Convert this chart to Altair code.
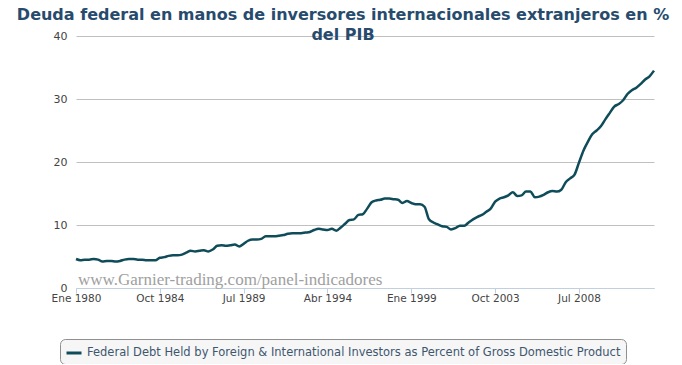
import altair as alt
import pandas as pd

title_lines = ["Deuda federal en manos de inversores internacionales extranjeros en %", "del PIB"]
series_name = "Federal Debt Held by Foreign & International Investors as Percent of Gross Domestic Product"
watermark = "www.Garnier-trading.com/panel-indicadores"
month_names = ["Ene", "Feb", "Mar", "Abr", "May", "Jun", "Jul", "Ago", "Sep", "Oct", "Nov", "Dic"]
first_quarter = "1980-01-01"
tick_dates = ["1980-01-01", "1984-10-01", "1989-07-01", "1994-04-01", "1999-01-01", "2003-10-01", "2008-07-01"]

values = [
    4.6, 4.4, 4.5, 4.5, 4.6, 4.5, 4.2, 4.3, 4.3, 4.2,
    4.3, 4.5, 4.6, 4.6, 4.5, 4.5, 4.4, 4.4, 4.4, 4.8,
    4.9, 5.1, 5.2, 5.2, 5.3, 5.6, 5.9, 5.8, 5.9, 6.0,
    5.8, 6.1, 6.7, 6.8, 6.7, 6.8, 6.9, 6.6, 7.0, 7.5,
    7.7, 7.7, 7.8, 8.2, 8.2, 8.2, 8.3, 8.4, 8.6, 8.7,
    8.7, 8.7, 8.8, 8.9, 9.2, 9.4, 9.3, 9.2, 9.4, 9.1,
    9.6, 10.2, 10.8, 10.9, 11.6, 11.7, 12.6, 13.6, 13.9, 14.0,
    14.2, 14.2, 14.1, 14.0, 13.5, 13.8, 13.5, 13.3, 13.3, 12.9,
    10.9, 10.4, 10.1, 9.8, 9.7, 9.3, 9.5, 9.9, 9.9, 10.4,
    10.9, 11.3, 11.6, 12.1, 12.6, 13.7, 14.2, 14.4, 14.7, 15.2,
    14.6, 14.7, 15.3, 15.3, 14.4, 14.5, 14.8, 15.2, 15.4, 15.3,
    15.6, 16.8, 17.4, 18.0, 19.9, 21.8, 23.2, 24.4, 25.0, 25.7,
    26.8, 27.8, 28.8, 29.2, 29.8, 30.8, 31.4, 31.8, 32.4, 33.1,
    33.6, 34.5,
]

dates = pd.date_range(first_quarter, periods=len(values), freq="QS")
df = pd.DataFrame({
    "fecha": dates.strftime("%Y-%m-%d"),
    "valor": values,
    "serie": series_name,
})

month_arr = "[" + ",".join("'%s'" % m for m in month_names) + "]"
label_expr = month_arr + "[utcmonth(datum.value)] + ' ' + utcyear(datum.value)"

tick_vals = [alt.DateTime(year=int(d[:4]), month=int(d[5:7]), date=1, utc=True) for d in tick_dates]
last = dates[-1]

FONT = "DejaVu Sans"

line = alt.Chart(df).mark_line(strokeWidth=2.5, interpolate="monotone").encode(
    x=alt.X(
        "fecha:T",
        scale=alt.Scale(
            type="utc",
            domain=[
                alt.DateTime(year=1980, month=1, date=1, utc=True),
                alt.DateTime(year=int(last.year), month=int(last.month), date=1, utc=True),
            ],
            nice=False,
        ),
        axis=alt.Axis(
            values=tick_vals,
            labelExpr=label_expr,
            title=None,
            grid=False,
            domainColor="#C0D0E0",
            tickColor="#C0D0E0",
            tickSize=5,
            labelPadding=0,
            labelFont=FONT,
            labelFontSize=10.5,
            labelColor="#444444",
            labelFlush=False,
        ),
    ),
    y=alt.Y(
        "valor:Q",
        scale=alt.Scale(domain=[0, 40], nice=False),
        axis=alt.Axis(
            values=[0, 10, 20, 30, 40],
            title=None,
            domain=False,
            ticks=False,
            gridColor="#C0C0C0",
            labelPadding=9,
            labelFont=FONT,
            labelFontSize=11,
            labelColor="#444444",
        ),
    ),
    color=alt.Color(
        "serie:N",
        scale=alt.Scale(range=["#0F4C5A"]),
        legend=alt.Legend(
            title=None,
            orient="none",
            legendX=-16,
            legendY=303,
            symbolType="stroke",
            symbolStrokeWidth=3,
            symbolSize=225,
            labelFont=FONT,
            labelFontSize=11.5,
            labelColor="#3E576F",
            labelLimit=0,
            padding=5,
            strokeColor="#909090",
            fillColor="#F6F6F6",
            cornerRadius=5,
        ),
    ),
)

wm = alt.Chart(pd.DataFrame({"t": [watermark]})).mark_text(
    font="Liberation Serif", fontSize=17, color="#A0A0A0", align="left", baseline="alphabetic"
).encode(text="t:N", x=alt.value(2), y=alt.value(249))

chart = alt.layer(wm, line).properties(
    width=578,
    height=252,
    autosize=alt.AutoSizeParams(type="none"),
    padding={"left": 68, "top": 28, "right": 20, "bottom": 76},
    title=alt.TitleParams(
        text=title_lines,
        anchor="middle",
        frame="group",
        font=FONT,
        fontSize=16,
        fontWeight="bold",
        color="#274B6D",
        lineHeight=20,
        dx=-22,
        offset=-13,
    ),
).configure_view(stroke=None)

chart.save("out.html", embed_options={"renderer": "svg", "actions": False})
